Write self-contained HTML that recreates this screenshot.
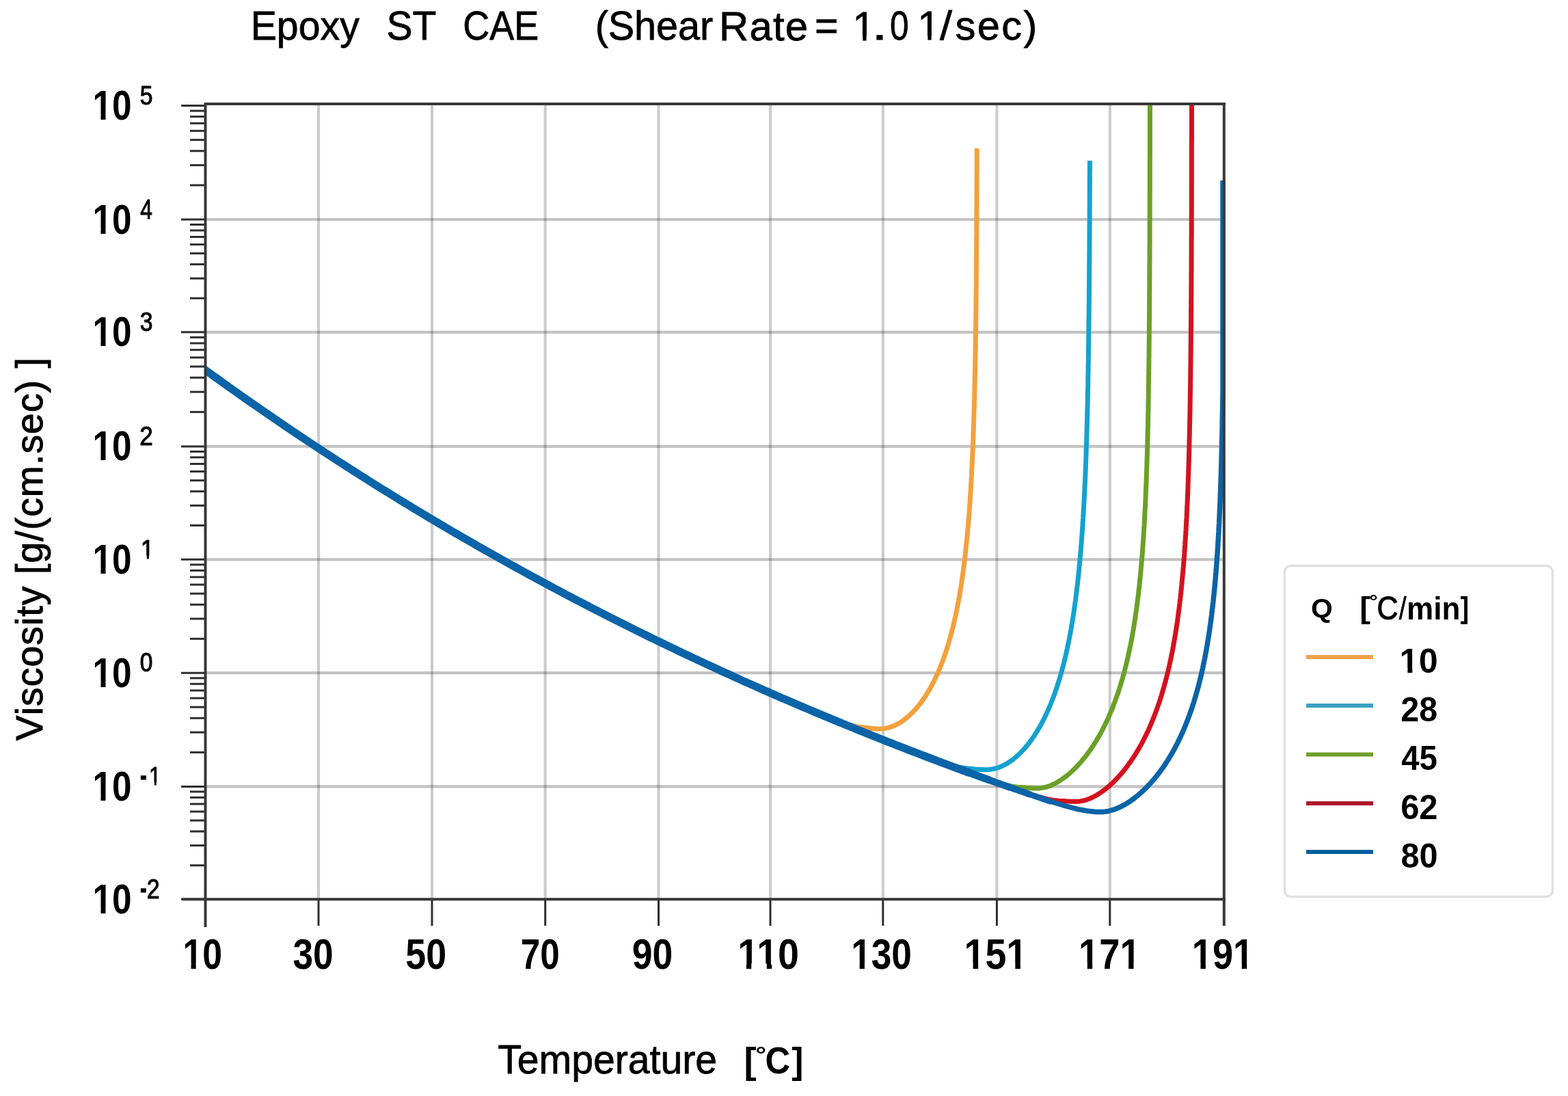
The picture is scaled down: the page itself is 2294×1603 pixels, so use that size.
<!DOCTYPE html>
<html><head><meta charset="utf-8"><title>Epoxy ST CAE viscosity</title>
<style>html,body{margin:0;padding:0;background:#fff;overflow:hidden;}svg{display:block;}</style></head>
<body>
<svg width="2294" height="1603" viewBox="0 0 2294 1603"><defs><clipPath id="plotclip" clipPathUnits="userSpaceOnUse"><rect x="300" y="150" width="1492" height="1166"/></clipPath><clipPath id="c1" clipPathUnits="userSpaceOnUse"><rect x="1197.25" y="-12.92" width="10000.00" height="65.77"/><rect x="1262.23" y="51.95" width="5.27" height="32.00"/></clipPath><clipPath id="c2" clipPathUnits="userSpaceOnUse"><rect x="1292.35" y="-13.12" width="10000.00" height="65.77"/><rect x="1357.33" y="51.75" width="5.27" height="32.00"/></clipPath><clipPath id="c3" clipPathUnits="userSpaceOnUse"><rect x="85.49" y="102.62" width="10000.00" height="64.93"/><rect x="147.47" y="166.64" width="7.05" height="32.36"/><rect x="163.55" y="166.64" width="29.56" height="32.36"/></clipPath><clipPath id="c4" clipPathUnits="userSpaceOnUse"><rect x="85.49" y="269.12" width="10000.00" height="64.93"/><rect x="147.47" y="333.14" width="7.05" height="32.36"/><rect x="163.55" y="333.14" width="29.56" height="32.36"/></clipPath><clipPath id="c5" clipPathUnits="userSpaceOnUse"><rect x="85.49" y="433.92" width="10000.00" height="64.93"/><rect x="147.47" y="497.94" width="7.05" height="32.36"/><rect x="163.55" y="497.94" width="29.56" height="32.36"/></clipPath><clipPath id="c6" clipPathUnits="userSpaceOnUse"><rect x="85.49" y="601.02" width="10000.00" height="64.93"/><rect x="147.47" y="665.04" width="7.05" height="32.36"/><rect x="163.55" y="665.04" width="29.56" height="32.36"/></clipPath><clipPath id="c7" clipPathUnits="userSpaceOnUse"><rect x="85.49" y="766.42" width="10000.00" height="64.93"/><rect x="147.47" y="830.44" width="7.05" height="32.36"/><rect x="163.55" y="830.44" width="29.56" height="32.36"/></clipPath><clipPath id="c8" clipPathUnits="userSpaceOnUse"><rect x="155.87" y="770.58" width="10000.00" height="42.04"/><rect x="214.84" y="811.72" width="3.16" height="21.46"/></clipPath><clipPath id="c9" clipPathUnits="userSpaceOnUse"><rect x="85.49" y="932.32" width="10000.00" height="64.93"/><rect x="147.47" y="996.34" width="7.05" height="32.36"/><rect x="163.55" y="996.34" width="29.56" height="32.36"/></clipPath><clipPath id="c10" clipPathUnits="userSpaceOnUse"><rect x="85.49" y="1098.52" width="10000.00" height="64.93"/><rect x="147.47" y="1162.54" width="7.05" height="32.36"/><rect x="163.55" y="1162.54" width="29.56" height="32.36"/></clipPath><clipPath id="c11" clipPathUnits="userSpaceOnUse"><rect x="167.96" y="1102.75" width="10000.00" height="41.23"/><rect x="225.91" y="1143.08" width="2.79" height="21.10"/></clipPath><clipPath id="c12" clipPathUnits="userSpaceOnUse"><rect x="85.49" y="1263.42" width="10000.00" height="64.93"/><rect x="147.47" y="1327.44" width="7.05" height="32.36"/><rect x="163.55" y="1327.44" width="29.56" height="32.36"/></clipPath><clipPath id="c13" clipPathUnits="userSpaceOnUse"><rect x="217.46" y="1342.00" width="10000.00" height="67.32"/><rect x="279.56" y="1408.42" width="7.11" height="33.45"/><rect x="295.79" y="1408.42" width="29.84" height="33.45"/></clipPath><clipPath id="c14" clipPathUnits="userSpaceOnUse"><rect x="1029.33" y="1342.00" width="10000.00" height="67.32"/><rect x="1091.87" y="1408.42" width="7.37" height="33.45"/><rect x="1121.76" y="1408.42" width="7.37" height="33.45"/><rect x="1138.61" y="1408.42" width="30.89" height="33.45"/></clipPath><clipPath id="c15" clipPathUnits="userSpaceOnUse"><rect x="1195.16" y="1342.00" width="10000.00" height="67.32"/><rect x="1257.59" y="1408.42" width="7.30" height="33.45"/><rect x="1274.27" y="1408.42" width="30.61" height="33.45"/><rect x="1303.88" y="1408.42" width="30.61" height="33.45"/></clipPath><clipPath id="c16" clipPathUnits="userSpaceOnUse"><rect x="1360.61" y="1342.00" width="10000.00" height="67.32"/><rect x="1423.56" y="1408.42" width="7.61" height="33.45"/><rect x="1440.97" y="1408.42" width="31.86" height="33.45"/><rect x="1485.29" y="1408.42" width="7.61" height="33.45"/></clipPath><clipPath id="c17" clipPathUnits="userSpaceOnUse"><rect x="1528.09" y="1342.00" width="10000.00" height="67.32"/><rect x="1590.75" y="1408.42" width="7.44" height="33.45"/><rect x="1607.75" y="1408.42" width="31.16" height="33.45"/><rect x="1651.06" y="1408.42" width="7.44" height="33.45"/></clipPath><clipPath id="c18" clipPathUnits="userSpaceOnUse"><rect x="1693.79" y="1342.00" width="10000.00" height="67.32"/><rect x="1756.45" y="1408.42" width="7.44" height="33.45"/><rect x="1773.45" y="1408.42" width="31.16" height="33.45"/><rect x="1816.76" y="1408.42" width="7.44" height="33.45"/></clipPath><clipPath id="c19" clipPathUnits="userSpaceOnUse"><rect x="1997.55" y="923.33" width="10000.00" height="53.76"/><rect x="2059.33" y="976.18" width="6.92" height="27.27"/><rect x="2075.11" y="976.18" width="29.06" height="27.27"/></clipPath></defs><g stroke="#000" stroke-opacity="0.2" stroke-width="4.2"><line x1="466.0" y1="152.0" x2="466.0" y2="1315.3"/><line x1="632.0" y1="152.0" x2="632.0" y2="1315.3"/><line x1="797.7" y1="152.0" x2="797.7" y2="1315.3"/><line x1="963.5" y1="152.0" x2="963.5" y2="1315.3"/><line x1="1127.0" y1="152.0" x2="1127.0" y2="1315.3"/><line x1="1291.8" y1="152.0" x2="1291.8" y2="1315.3"/><line x1="1458.4" y1="152.0" x2="1458.4" y2="1315.3"/><line x1="1623.8" y1="152.0" x2="1623.8" y2="1315.3"/></g>
<g stroke="#000" stroke-opacity="0.235" stroke-width="4.2"><line x1="300.5" y1="321.0" x2="1789.5" y2="321.0"/><line x1="300.5" y1="485.8" x2="1789.5" y2="485.8"/><line x1="300.5" y1="652.9" x2="1789.5" y2="652.9"/><line x1="300.5" y1="818.3" x2="1789.5" y2="818.3"/><line x1="300.5" y1="984.2" x2="1789.5" y2="984.2"/><line x1="300.5" y1="1150.4" x2="1789.5" y2="1150.4"/></g>
<g stroke="#2e2e2e" stroke-width="3"><line x1="265" y1="154.5" x2="300.5" y2="154.5"/><line x1="265" y1="321.0" x2="300.5" y2="321.0"/><line x1="265" y1="485.8" x2="300.5" y2="485.8"/><line x1="265" y1="652.9" x2="300.5" y2="652.9"/><line x1="265" y1="818.3" x2="300.5" y2="818.3"/><line x1="265" y1="984.2" x2="300.5" y2="984.2"/><line x1="265" y1="1150.4" x2="300.5" y2="1150.4"/><line x1="265" y1="1315.3" x2="300.5" y2="1315.3"/><line x1="278" y1="270.9" x2="300.5" y2="270.9"/><line x1="278" y1="241.6" x2="300.5" y2="241.6"/><line x1="278" y1="220.8" x2="300.5" y2="220.8"/><line x1="278" y1="204.6" x2="300.5" y2="204.6"/><line x1="278" y1="191.4" x2="300.5" y2="191.4"/><line x1="278" y1="180.3" x2="300.5" y2="180.3"/><line x1="278" y1="170.6" x2="300.5" y2="170.6"/><line x1="278" y1="162.1" x2="300.5" y2="162.1"/><line x1="278" y1="436.2" x2="300.5" y2="436.2"/><line x1="278" y1="407.2" x2="300.5" y2="407.2"/><line x1="278" y1="386.6" x2="300.5" y2="386.6"/><line x1="278" y1="370.6" x2="300.5" y2="370.6"/><line x1="278" y1="357.6" x2="300.5" y2="357.6"/><line x1="278" y1="346.5" x2="300.5" y2="346.5"/><line x1="278" y1="337.0" x2="300.5" y2="337.0"/><line x1="278" y1="328.5" x2="300.5" y2="328.5"/><line x1="278" y1="602.6" x2="300.5" y2="602.6"/><line x1="278" y1="573.2" x2="300.5" y2="573.2"/><line x1="278" y1="552.3" x2="300.5" y2="552.3"/><line x1="278" y1="536.1" x2="300.5" y2="536.1"/><line x1="278" y1="522.9" x2="300.5" y2="522.9"/><line x1="278" y1="511.7" x2="300.5" y2="511.7"/><line x1="278" y1="502.0" x2="300.5" y2="502.0"/><line x1="278" y1="493.4" x2="300.5" y2="493.4"/><line x1="278" y1="768.5" x2="300.5" y2="768.5"/><line x1="278" y1="739.4" x2="300.5" y2="739.4"/><line x1="278" y1="718.7" x2="300.5" y2="718.7"/><line x1="278" y1="702.7" x2="300.5" y2="702.7"/><line x1="278" y1="689.6" x2="300.5" y2="689.6"/><line x1="278" y1="678.5" x2="300.5" y2="678.5"/><line x1="278" y1="668.9" x2="300.5" y2="668.9"/><line x1="278" y1="660.5" x2="300.5" y2="660.5"/><line x1="278" y1="934.3" x2="300.5" y2="934.3"/><line x1="278" y1="905.0" x2="300.5" y2="905.0"/><line x1="278" y1="884.3" x2="300.5" y2="884.3"/><line x1="278" y1="868.2" x2="300.5" y2="868.2"/><line x1="278" y1="855.1" x2="300.5" y2="855.1"/><line x1="278" y1="844.0" x2="300.5" y2="844.0"/><line x1="278" y1="834.4" x2="300.5" y2="834.4"/><line x1="278" y1="825.9" x2="300.5" y2="825.9"/><line x1="278" y1="1100.4" x2="300.5" y2="1100.4"/><line x1="278" y1="1071.1" x2="300.5" y2="1071.1"/><line x1="278" y1="1050.3" x2="300.5" y2="1050.3"/><line x1="278" y1="1034.2" x2="300.5" y2="1034.2"/><line x1="278" y1="1021.1" x2="300.5" y2="1021.1"/><line x1="278" y1="1009.9" x2="300.5" y2="1009.9"/><line x1="278" y1="1000.3" x2="300.5" y2="1000.3"/><line x1="278" y1="991.8" x2="300.5" y2="991.8"/><line x1="278" y1="1265.7" x2="300.5" y2="1265.7"/><line x1="278" y1="1236.6" x2="300.5" y2="1236.6"/><line x1="278" y1="1216.0" x2="300.5" y2="1216.0"/><line x1="278" y1="1200.0" x2="300.5" y2="1200.0"/><line x1="278" y1="1187.0" x2="300.5" y2="1187.0"/><line x1="278" y1="1175.9" x2="300.5" y2="1175.9"/><line x1="278" y1="1166.4" x2="300.5" y2="1166.4"/><line x1="278" y1="1157.9" x2="300.5" y2="1157.9"/><line x1="300.5" y1="1315.3" x2="300.5" y2="1354"/><line x1="466.0" y1="1315.3" x2="466.0" y2="1354"/><line x1="632.0" y1="1315.3" x2="632.0" y2="1354"/><line x1="797.7" y1="1315.3" x2="797.7" y2="1354"/><line x1="963.5" y1="1315.3" x2="963.5" y2="1354"/><line x1="1127.0" y1="1315.3" x2="1127.0" y2="1354"/><line x1="1291.8" y1="1315.3" x2="1291.8" y2="1354"/><line x1="1458.4" y1="1315.3" x2="1458.4" y2="1354"/><line x1="1623.8" y1="1315.3" x2="1623.8" y2="1354"/></g>
<g fill="none" stroke-linecap="butt" stroke-linejoin="round">
<path d="M1191.6,1041.1 L1195.2,1042.6 L1198.9,1044.1 L1202.6,1045.6 L1206.2,1047.1 L1209.9,1048.5 L1213.6,1050.0 L1217.3,1051.4 L1220.9,1052.8 L1224.6,1054.2 L1228.3,1055.6 L1232.0,1056.8 L1235.6,1058.1 L1239.3,1059.2 L1243.0,1060.2 L1246.7,1061.2 L1250.3,1061.9 L1254.0,1062.6 L1257.7,1063.1 L1261.4,1063.6 L1265.0,1064.1 L1268.7,1064.5 L1272.4,1065.0 L1276.0,1065.4 L1279.7,1065.7 L1281.8,1065.9 L1284.0,1066.0 L1286.2,1066.1 L1288.3,1066.0 L1290.5,1065.9 L1292.6,1065.7 L1294.6,1065.4 L1296.7,1065.0 L1298.7,1064.6 L1300.7,1064.0 L1302.7,1063.4 L1304.7,1062.7 L1306.6,1062.0 L1308.5,1061.2 L1310.4,1060.3 L1312.2,1059.4 L1314.1,1058.4 L1315.9,1057.3 L1317.7,1056.2 L1319.4,1055.1 L1321.2,1053.9 L1322.9,1052.6 L1324.6,1051.3 L1326.3,1050.0 L1327.9,1048.6 L1329.6,1047.2 L1331.2,1045.7 L1332.8,1044.2 L1334.3,1042.6 L1335.9,1041.0 L1337.4,1039.4 L1338.9,1037.8 L1340.3,1036.3 L1341.6,1034.7 L1342.9,1033.2 L1344.1,1031.6 L1345.4,1030.0 L1346.7,1028.4 L1347.9,1026.7 L1349.1,1025.1 L1350.3,1023.4 L1351.5,1021.7 L1352.7,1019.9 L1353.9,1018.2 L1355.0,1016.4 L1356.1,1014.6 L1357.3,1012.7 L1358.4,1010.9 L1359.5,1009.0 L1360.5,1007.2 L1361.6,1005.3 L1362.7,1003.3 L1363.7,1001.4 L1364.7,999.4 L1365.7,997.4 L1366.8,995.4 L1367.7,993.4 L1368.7,991.4 L1369.7,989.3 L1370.6,987.3 L1371.5,985.4 L1372.3,983.6 L1373.1,981.7 L1373.9,979.9 L1374.7,978.0 L1375.4,976.1 L1376.2,974.2 L1377.0,972.3 L1377.7,970.4 L1378.5,968.4 L1379.2,966.5 L1379.9,964.5 L1380.6,962.5 L1381.4,960.5 L1382.1,958.5 L1382.7,956.5 L1383.4,954.5 L1384.1,952.4 L1384.8,950.4 L1385.4,948.3 L1386.1,946.2 L1386.7,944.1 L1387.4,942.0 L1388.0,939.9 L1388.6,937.8 L1389.2,935.6 L1389.9,933.5 L1390.5,931.3 L1391.0,929.2 L1391.6,927.0 L1392.2,924.8 L1392.8,922.6 L1393.3,920.3 L1393.9,918.1 L1394.5,915.9 L1395.0,913.6 L1395.5,911.3 L1396.0,909.4 L1396.4,907.4 L1396.9,905.5 L1397.3,903.5 L1397.8,901.5 L1398.2,899.5 L1398.6,897.5 L1399.0,895.5 L1399.5,893.5 L1399.9,891.4 L1400.3,889.4 L1400.7,887.4 L1401.1,885.3 L1401.5,883.2 L1401.9,881.2 L1402.3,879.1 L1402.6,877.0 L1403.0,874.9 L1403.4,872.8 L1403.8,870.7 L1404.1,868.6 L1404.5,866.4 L1404.8,864.3 L1405.2,862.2 L1405.5,860.0 L1405.9,857.8 L1406.2,855.7 L1406.6,853.5 L1406.9,851.3 L1407.2,849.1 L1407.6,846.9 L1407.9,844.7 L1408.2,842.4 L1408.5,840.2 L1408.8,838.0 L1409.1,835.7 L1409.4,833.4 L1409.7,831.2 L1410.0,828.9 L1410.3,826.6 L1410.6,824.3 L1410.9,822.0 L1411.2,819.7 L1411.5,817.4 L1411.7,815.0 L1412.0,812.7 L1412.3,810.4 L1412.5,808.0 L1412.8,805.6 L1413.1,803.3 L1413.3,800.9 L1413.5,798.9 L1413.7,796.9 L1413.9,794.9 L1414.1,792.9 L1414.3,790.8 L1414.5,788.8 L1414.7,786.8 L1414.9,784.7 L1415.1,782.7 L1415.3,780.6 L1415.5,778.6 L1415.7,776.5 L1415.9,774.4 L1416.1,772.4 L1416.3,770.3 L1416.4,768.2 L1416.6,766.1 L1416.8,764.0 L1417.0,761.9 L1417.1,759.7 L1417.3,757.6 L1417.5,755.5 L1417.6,753.3 L1417.8,751.2 L1418.0,749.0 L1418.1,746.9 L1418.3,744.7 L1418.4,742.5 L1418.6,740.4 L1418.8,738.2 L1418.9,736.0 L1419.1,733.8 L1419.2,731.6 L1419.4,729.4 L1419.5,727.1 L1419.6,724.9 L1419.8,722.7 L1419.9,720.4 L1420.1,718.2 L1420.2,715.9 L1420.3,713.6 L1420.5,711.4 L1420.6,709.1 L1420.7,706.8 L1420.9,704.5 L1421.0,702.2 L1421.1,699.9 L1421.2,697.6 L1421.4,695.2 L1421.5,692.9 L1421.6,690.6 L1421.7,688.2 L1421.9,685.9 L1422.0,683.5 L1422.1,681.1 L1422.2,678.7 L1422.3,676.3 L1422.4,673.9 L1422.5,671.5 L1422.6,669.1 L1422.7,666.7 L1422.9,664.3 L1423.0,661.8 L1423.1,659.4 L1423.2,656.9 L1423.3,654.5 L1423.4,652.0 L1423.5,649.5 L1423.6,647.0 L1423.7,644.6 L1423.7,642.5 L1423.8,640.5 L1423.9,638.5 L1423.9,636.5 L1424.0,634.5 L1424.1,632.5 L1424.2,630.4 L1424.2,628.4 L1424.3,626.3 L1424.4,624.3 L1424.4,622.2 L1424.5,620.2 L1424.6,618.1 L1424.6,616.0 L1424.7,613.9 L1424.8,611.8 L1424.8,609.8 L1424.9,607.7 L1425.0,605.5 L1425.0,603.4 L1425.1,601.3 L1425.1,599.2 L1425.2,597.1 L1425.3,594.9 L1425.3,592.8 L1425.4,590.7 L1425.4,588.5 L1425.5,586.3 L1425.6,584.2 L1425.6,582.0 L1425.7,579.8 L1425.7,577.6 L1425.8,575.5 L1425.8,573.3 L1425.9,571.1 L1425.9,568.8 L1426.0,566.6 L1426.0,564.4 L1426.1,562.2 L1426.1,559.9 L1426.2,557.7 L1426.2,555.5 L1426.3,553.2 L1426.3,550.9 L1426.4,548.7 L1426.4,546.4 L1426.5,544.1 L1426.5,541.8 L1426.6,539.5 L1426.6,537.2 L1426.7,534.9 L1426.7,532.6 L1426.7,530.3 L1426.8,528.0 L1426.8,525.6 L1426.9,523.3 L1426.9,520.9 L1426.9,518.6 L1427.0,516.2 L1427.0,513.8 L1427.1,511.4 L1427.1,509.1 L1427.1,506.7 L1427.2,504.3 L1427.2,501.8 L1427.3,499.4 L1427.3,497.0 L1427.3,494.6 L1427.4,492.1 L1427.4,489.7 L1427.4,487.2 L1427.5,484.8 L1427.5,482.3 L1427.5,479.8 L1427.6,477.3 L1427.6,474.8 L1427.6,472.3 L1427.7,469.8 L1427.7,467.3 L1427.7,464.8 L1427.8,462.2 L1427.8,459.7 L1427.8,457.1 L1427.8,454.6 L1427.9,452.0 L1427.9,449.4 L1427.9,446.8 L1428.0,444.3 L1428.0,441.6 L1428.0,439.0 L1428.0,436.4 L1428.1,433.8 L1428.1,431.1 L1428.1,428.5 L1428.1,425.8 L1428.2,423.2 L1428.2,421.2 L1428.2,419.2 L1428.2,417.1 L1428.2,415.1 L1428.3,413.1 L1428.3,411.1 L1428.3,409.0 L1428.3,407.0 L1428.3,404.9 L1428.3,402.9 L1428.4,400.8 L1428.4,398.8 L1428.4,396.7 L1428.4,394.6 L1428.4,392.6 L1428.4,390.5 L1428.5,388.4 L1428.5,386.3 L1428.5,384.2 L1428.5,382.1 L1428.5,380.0 L1428.5,377.8 L1428.6,375.7 L1428.6,373.6 L1428.6,371.5 L1428.6,369.3 L1428.6,367.2 L1428.6,365.0 L1428.6,362.9 L1428.7,360.7 L1428.7,358.5 L1428.7,356.3 L1428.7,354.2 L1428.7,352.0 L1428.7,349.8 L1428.7,347.6 L1428.7,345.4 L1428.8,343.2 L1428.8,340.9 L1428.8,338.7 L1428.8,336.5 L1428.8,334.2 L1428.8,332.0 L1428.8,329.7 L1428.8,327.5 L1428.9,325.2 L1428.9,323.0 L1428.9,320.7 L1428.9,318.4 L1428.9,316.1 L1428.9,313.8 L1428.9,311.5 L1428.9,309.2 L1428.9,306.9 L1429.0,304.6 L1429.0,302.2 L1429.0,299.9 L1429.0,297.5 L1429.0,295.2 L1429.0,292.8 L1429.0,290.5 L1429.0,288.1 L1429.0,285.7 L1429.0,283.3 L1429.0,280.9 L1429.1,278.5 L1429.1,276.1 L1429.1,273.7 L1429.1,271.3 L1429.1,268.9 L1429.1,266.4 L1429.1,264.0 L1429.1,261.5 L1429.1,259.1 L1429.1,256.6 L1429.1,254.1 L1429.2,251.6 L1429.2,249.1 L1429.2,246.6 L1429.2,244.1 L1429.2,241.6 L1429.2,239.1 L1429.2,236.6 L1429.2,234.0 L1429.2,231.5 L1429.2,228.9 L1429.2,226.4 L1429.2,223.8 L1429.2,221.2 L1429.2,218.6 L1429.3,217.0" stroke="#f4a03c" stroke-width="7"/>
<path d="M1349.1,1104.3 L1352.8,1105.6 L1356.5,1107.0 L1360.1,1108.4 L1363.8,1109.7 L1367.5,1111.0 L1371.2,1112.4 L1374.8,1113.6 L1378.5,1114.9 L1382.2,1116.2 L1385.8,1117.4 L1389.5,1118.5 L1393.2,1119.6 L1396.9,1120.6 L1400.5,1121.5 L1404.2,1122.3 L1407.9,1122.9 L1411.6,1123.4 L1415.2,1123.9 L1418.9,1124.2 L1422.6,1124.5 L1426.3,1124.9 L1429.9,1125.2 L1433.6,1125.4 L1437.3,1125.6 L1439.4,1125.7 L1441.4,1125.8 L1443.5,1125.8 L1445.5,1125.7 L1447.5,1125.5 L1449.7,1125.3 L1451.9,1124.9 L1454.1,1124.5 L1456.2,1123.9 L1458.3,1123.3 L1460.4,1122.7 L1462.5,1121.9 L1464.5,1121.1 L1466.5,1120.2 L1468.5,1119.2 L1470.5,1118.2 L1472.4,1117.1 L1474.4,1116.0 L1476.2,1114.8 L1478.1,1113.5 L1479.7,1112.3 L1481.4,1111.1 L1483.0,1109.9 L1484.6,1108.6 L1486.1,1107.3 L1487.7,1106.0 L1489.2,1104.6 L1490.7,1103.2 L1492.2,1101.7 L1493.7,1100.3 L1495.2,1098.7 L1496.6,1097.2 L1498.0,1095.6 L1499.4,1094.1 L1500.8,1092.4 L1502.2,1090.8 L1503.6,1089.1 L1504.9,1087.4 L1506.3,1085.7 L1507.6,1083.9 L1508.9,1082.2 L1510.2,1080.4 L1511.4,1078.5 L1512.7,1076.7 L1513.9,1074.8 L1515.1,1072.9 L1516.3,1071.0 L1517.5,1069.1 L1518.7,1067.1 L1519.7,1065.4 L1520.7,1063.7 L1521.7,1061.9 L1522.7,1060.1 L1523.7,1058.4 L1524.7,1056.5 L1525.6,1054.7 L1526.6,1052.9 L1527.5,1051.0 L1528.4,1049.2 L1529.3,1047.3 L1530.2,1045.4 L1531.1,1043.5 L1532.0,1041.6 L1532.9,1039.6 L1533.8,1037.7 L1534.6,1035.7 L1535.5,1033.8 L1536.3,1031.8 L1537.1,1029.8 L1537.9,1027.8 L1538.7,1025.7 L1539.5,1023.7 L1540.3,1021.6 L1541.1,1019.6 L1541.9,1017.5 L1542.7,1015.4 L1543.4,1013.3 L1544.1,1011.1 L1544.9,1009.0 L1545.6,1006.9 L1546.3,1004.7 L1547.0,1002.5 L1547.7,1000.4 L1548.4,998.2 L1549.1,996.0 L1549.8,993.7 L1550.5,991.5 L1551.0,989.6 L1551.6,987.6 L1552.2,985.7 L1552.7,983.7 L1553.3,981.8 L1553.8,979.8 L1554.3,977.8 L1554.9,975.8 L1555.4,973.9 L1555.9,971.8 L1556.4,969.8 L1556.9,967.8 L1557.4,965.8 L1557.9,963.7 L1558.4,961.7 L1558.9,959.6 L1559.4,957.6 L1559.8,955.5 L1560.3,953.4 L1560.8,951.3 L1561.2,949.2 L1561.7,947.1 L1562.1,945.0 L1562.6,942.9 L1563.0,940.7 L1563.5,938.6 L1563.9,936.4 L1564.3,934.3 L1564.7,932.1 L1565.1,929.9 L1565.6,927.7 L1566.0,925.5 L1566.4,923.3 L1566.8,921.1 L1567.2,918.9 L1567.5,916.6 L1567.9,914.4 L1568.3,912.1 L1568.7,909.9 L1569.1,907.6 L1569.4,905.3 L1569.8,903.0 L1570.1,900.7 L1570.5,898.4 L1570.9,896.1 L1571.2,893.8 L1571.5,891.5 L1571.9,889.1 L1572.2,886.8 L1572.5,884.4 L1572.9,882.0 L1573.2,879.7 L1573.5,877.7 L1573.7,875.7 L1574.0,873.7 L1574.2,871.7 L1574.5,869.7 L1574.8,867.6 L1575.0,865.6 L1575.3,863.6 L1575.5,861.5 L1575.7,859.5 L1576.0,857.4 L1576.2,855.4 L1576.5,853.3 L1576.7,851.2 L1576.9,849.2 L1577.2,847.1 L1577.4,845.0 L1577.6,842.9 L1577.8,840.8 L1578.0,838.7 L1578.3,836.6 L1578.5,834.4 L1578.7,832.3 L1578.9,830.2 L1579.1,828.0 L1579.3,825.9 L1579.5,823.7 L1579.7,821.5 L1579.9,819.4 L1580.1,817.2 L1580.3,815.0 L1580.5,812.8 L1580.7,810.6 L1580.9,808.4 L1581.1,806.2 L1581.3,804.0 L1581.4,801.7 L1581.6,799.5 L1581.8,797.3 L1582.0,795.0 L1582.2,792.8 L1582.3,790.5 L1582.5,788.2 L1582.7,785.9 L1582.8,783.7 L1583.0,781.4 L1583.2,779.1 L1583.3,776.8 L1583.5,774.4 L1583.7,772.1 L1583.8,769.8 L1584.0,767.5 L1584.1,765.1 L1584.3,762.8 L1584.4,760.4 L1584.6,758.0 L1584.7,755.7 L1584.9,753.3 L1585.0,750.9 L1585.1,748.5 L1585.3,746.1 L1585.4,743.7 L1585.6,741.3 L1585.7,738.8 L1585.8,736.4 L1586.0,733.9 L1586.1,731.5 L1586.2,729.0 L1586.3,726.6 L1586.5,724.1 L1586.6,721.6 L1586.7,719.1 L1586.8,717.1 L1586.9,715.1 L1587.0,713.1 L1587.1,711.1 L1587.2,709.1 L1587.3,707.0 L1587.4,705.0 L1587.5,703.0 L1587.6,700.9 L1587.7,698.9 L1587.7,696.8 L1587.8,694.8 L1587.9,692.7 L1588.0,690.6 L1588.1,688.5 L1588.2,686.5 L1588.3,684.4 L1588.3,682.3 L1588.4,680.2 L1588.5,678.1 L1588.6,676.0 L1588.7,673.9 L1588.7,671.7 L1588.8,669.6 L1588.9,667.5 L1589.0,665.3 L1589.0,663.2 L1589.1,661.1 L1589.2,658.9 L1589.3,656.7 L1589.3,654.6 L1589.4,652.4 L1589.5,650.2 L1589.5,648.0 L1589.6,645.8 L1589.7,643.6 L1589.7,641.4 L1589.8,639.2 L1589.9,637.0 L1589.9,634.8 L1590.0,632.6 L1590.1,630.3 L1590.1,628.1 L1590.2,625.8 L1590.3,623.6 L1590.3,621.3 L1590.4,619.1 L1590.4,616.8 L1590.5,614.5 L1590.6,612.2 L1590.6,609.9 L1590.7,607.6 L1590.7,605.3 L1590.8,603.0 L1590.9,600.7 L1590.9,598.4 L1591.0,596.0 L1591.0,593.7 L1591.1,591.3 L1591.1,589.0 L1591.2,586.6 L1591.2,584.3 L1591.3,581.9 L1591.3,579.5 L1591.4,577.1 L1591.4,574.7 L1591.5,572.3 L1591.5,569.9 L1591.6,567.5 L1591.6,565.1 L1591.7,562.6 L1591.7,560.2 L1591.8,557.7 L1591.8,555.3 L1591.8,552.8 L1591.9,550.4 L1591.9,547.9 L1592.0,545.4 L1592.0,542.9 L1592.1,540.4 L1592.1,537.9 L1592.1,535.4 L1592.2,532.9 L1592.2,530.3 L1592.3,527.8 L1592.3,525.3 L1592.3,522.7 L1592.4,520.2 L1592.4,517.6 L1592.4,515.0 L1592.5,512.4 L1592.5,509.8 L1592.6,507.2 L1592.6,504.6 L1592.6,502.0 L1592.7,499.4 L1592.7,496.7 L1592.7,494.1 L1592.8,491.4 L1592.8,488.8 L1592.8,486.8 L1592.8,484.8 L1592.9,482.8 L1592.9,480.7 L1592.9,478.7 L1592.9,476.7 L1593.0,474.7 L1593.0,472.6 L1593.0,470.6 L1593.0,468.5 L1593.0,466.5 L1593.1,464.4 L1593.1,462.4 L1593.1,460.3 L1593.1,458.2 L1593.2,456.2 L1593.2,454.1 L1593.2,452.0 L1593.2,449.9 L1593.2,447.8 L1593.3,445.7 L1593.3,443.6 L1593.3,441.5 L1593.3,439.4 L1593.3,437.2 L1593.4,435.1 L1593.4,433.0 L1593.4,430.8 L1593.4,428.7 L1593.4,426.5 L1593.4,424.4 L1593.5,422.2 L1593.5,420.0 L1593.5,417.9 L1593.5,415.7 L1593.5,413.5 L1593.5,411.3 L1593.6,409.1 L1593.6,406.9 L1593.6,404.7 L1593.6,402.5 L1593.6,400.3 L1593.6,398.0 L1593.7,395.8 L1593.7,393.6 L1593.7,391.3 L1593.7,389.1 L1593.7,386.8 L1593.7,384.5 L1593.8,382.3 L1593.8,380.0 L1593.8,377.7 L1593.8,375.4 L1593.8,373.1 L1593.8,370.8 L1593.8,368.5 L1593.9,366.2 L1593.9,363.9 L1593.9,361.6 L1593.9,359.2 L1593.9,356.9 L1593.9,354.5 L1593.9,352.2 L1593.9,349.8 L1594.0,347.5 L1594.0,345.1 L1594.0,342.7 L1594.0,340.3 L1594.0,337.9 L1594.0,335.5 L1594.0,333.1 L1594.0,330.7 L1594.1,328.3 L1594.1,325.9 L1594.1,323.4 L1594.1,321.0 L1594.1,318.5 L1594.1,316.1 L1594.1,313.6 L1594.1,311.1 L1594.1,308.7 L1594.1,306.2 L1594.2,303.7 L1594.2,301.2 L1594.2,298.7 L1594.2,296.2 L1594.2,293.6 L1594.2,291.1 L1594.2,288.6 L1594.2,286.0 L1594.2,283.5 L1594.2,280.9 L1594.3,278.3 L1594.3,275.7 L1594.3,273.2 L1594.3,270.6 L1594.3,268.0 L1594.3,265.4 L1594.3,262.7 L1594.3,260.1 L1594.3,257.5 L1594.3,254.8 L1594.3,252.2 L1594.3,249.5 L1594.4,246.9 L1594.4,244.2 L1594.4,241.5 L1594.4,238.8 L1594.4,236.1 L1594.4,235.0" stroke="#14a2cf" stroke-width="7"/>
<path d="M1426.2,1133.1 L1429.9,1134.4 L1433.6,1135.7 L1437.2,1137.0 L1440.9,1138.3 L1444.6,1139.5 L1448.3,1140.8 L1451.9,1142.0 L1455.6,1143.2 L1459.3,1144.4 L1463.0,1145.5 L1466.6,1146.6 L1470.3,1147.6 L1474.0,1148.6 L1477.6,1149.4 L1481.3,1150.1 L1485.0,1150.7 L1488.7,1151.2 L1492.3,1151.5 L1496.0,1151.8 L1499.7,1152.1 L1503.4,1152.4 L1507.0,1152.6 L1510.7,1152.8 L1514.4,1153.0 L1516.5,1153.0 L1518.7,1153.0 L1520.9,1152.9 L1523.0,1152.6 L1525.2,1152.3 L1527.3,1151.9 L1529.4,1151.4 L1531.4,1150.8 L1533.5,1150.2 L1535.5,1149.5 L1537.5,1148.7 L1539.5,1147.8 L1541.4,1146.9 L1543.4,1146.0 L1545.3,1145.0 L1547.2,1143.9 L1549.0,1142.8 L1550.9,1141.6 L1552.7,1140.4 L1554.5,1139.2 L1556.3,1137.9 L1558.1,1136.6 L1559.8,1135.3 L1561.6,1133.9 L1563.3,1132.5 L1565.0,1131.0 L1566.6,1129.5 L1568.3,1128.0 L1569.9,1126.5 L1571.5,1124.9 L1573.1,1123.3 L1574.7,1121.7 L1576.3,1120.1 L1577.8,1118.4 L1579.3,1116.8 L1580.9,1115.1 L1582.3,1113.3 L1583.8,1111.6 L1585.3,1109.8 L1586.5,1108.3 L1587.8,1106.7 L1589.0,1105.1 L1590.2,1103.5 L1591.4,1101.9 L1592.6,1100.3 L1593.8,1098.6 L1595.0,1097.0 L1596.1,1095.3 L1597.3,1093.6 L1598.4,1092.0 L1599.5,1090.3 L1600.6,1088.5 L1601.7,1086.8 L1602.8,1085.1 L1603.9,1083.3 L1604.9,1081.6 L1606.0,1079.8 L1607.0,1078.0 L1608.1,1076.3 L1609.1,1074.5 L1610.1,1072.6 L1611.1,1070.8 L1612.0,1069.0 L1613.0,1067.1 L1614.0,1065.3 L1614.9,1063.4 L1615.9,1061.6 L1616.8,1059.7 L1617.7,1057.8 L1618.6,1055.9 L1619.5,1054.0 L1620.4,1052.1 L1621.3,1050.1 L1622.2,1048.2 L1623.0,1046.2 L1623.9,1044.3 L1624.7,1042.3 L1625.5,1040.3 L1626.4,1038.4 L1627.2,1036.4 L1628.0,1034.4 L1628.8,1032.3 L1629.5,1030.3 L1630.3,1028.3 L1631.1,1026.3 L1631.8,1024.2 L1632.6,1022.1 L1633.3,1020.1 L1634.0,1018.0 L1634.8,1015.9 L1635.5,1013.8 L1636.2,1011.7 L1636.9,1009.6 L1637.6,1007.5 L1638.2,1005.4 L1638.9,1003.2 L1639.6,1001.1 L1640.2,998.9 L1640.9,996.8 L1641.5,994.6 L1642.1,992.4 L1642.8,990.2 L1643.4,988.0 L1644.0,985.8 L1644.6,983.6 L1645.2,981.4 L1645.8,979.1 L1646.3,976.9 L1646.9,974.6 L1647.5,972.4 L1647.9,970.4 L1648.4,968.5 L1648.9,966.5 L1649.3,964.5 L1649.8,962.6 L1650.3,960.6 L1650.7,958.6 L1651.1,956.6 L1651.6,954.6 L1652.0,952.6 L1652.4,950.6 L1652.9,948.6 L1653.3,946.5 L1653.7,944.5 L1654.1,942.5 L1654.5,940.4 L1654.9,938.4 L1655.3,936.3 L1655.7,934.2 L1656.1,932.2 L1656.4,930.1 L1656.8,928.0 L1657.2,925.9 L1657.6,923.8 L1657.9,921.7 L1658.3,919.6 L1658.6,917.5 L1659.0,915.3 L1659.3,913.2 L1659.7,911.1 L1660.0,908.9 L1660.3,906.7 L1660.7,904.6 L1661.0,902.4 L1661.3,900.2 L1661.6,898.0 L1662.0,895.8 L1662.3,893.6 L1662.6,891.4 L1662.9,889.2 L1663.2,887.0 L1663.5,884.8 L1663.8,882.5 L1664.1,880.3 L1664.3,878.0 L1664.6,875.8 L1664.9,873.5 L1665.2,871.2 L1665.5,868.9 L1665.7,866.6 L1666.0,864.3 L1666.2,862.0 L1666.5,859.7 L1666.8,857.4 L1667.0,855.1 L1667.3,852.7 L1667.5,850.4 L1667.7,848.0 L1668.0,845.7 L1668.2,843.3 L1668.5,840.9 L1668.7,838.5 L1668.9,836.5 L1669.1,834.5 L1669.2,832.5 L1669.4,830.5 L1669.6,828.5 L1669.8,826.4 L1670.0,824.4 L1670.1,822.4 L1670.3,820.3 L1670.5,818.3 L1670.7,816.2 L1670.8,814.2 L1671.0,812.1 L1671.2,810.0 L1671.3,807.9 L1671.5,805.9 L1671.6,803.8 L1671.8,801.7 L1671.9,799.6 L1672.1,797.4 L1672.2,795.3 L1672.4,793.2 L1672.5,791.1 L1672.7,788.9 L1672.8,786.8 L1673.0,784.6 L1673.1,782.5 L1673.3,780.3 L1673.4,778.1 L1673.5,776.0 L1673.7,773.8 L1673.8,771.6 L1673.9,769.4 L1674.1,767.2 L1674.2,765.0 L1674.3,762.8 L1674.4,760.5 L1674.6,758.3 L1674.7,756.1 L1674.8,753.8 L1674.9,751.6 L1675.0,749.3 L1675.1,747.0 L1675.3,744.8 L1675.4,742.5 L1675.5,740.2 L1675.6,737.9 L1675.7,735.6 L1675.8,733.3 L1675.9,731.0 L1676.0,728.6 L1676.1,726.3 L1676.2,724.0 L1676.3,721.6 L1676.4,719.3 L1676.5,716.9 L1676.6,714.5 L1676.7,712.1 L1676.8,709.7 L1676.9,707.4 L1677.0,704.9 L1677.1,702.5 L1677.2,700.1 L1677.3,697.7 L1677.4,695.2 L1677.4,692.8 L1677.5,690.3 L1677.6,687.9 L1677.7,685.4 L1677.8,682.9 L1677.9,680.5 L1677.9,678.0 L1678.0,676.0 L1678.1,673.9 L1678.1,671.9 L1678.2,669.9 L1678.2,667.9 L1678.3,665.9 L1678.4,663.8 L1678.4,661.8 L1678.5,659.7 L1678.5,657.7 L1678.6,655.6 L1678.6,653.5 L1678.7,651.5 L1678.8,649.4 L1678.8,647.3 L1678.9,645.2 L1678.9,643.1 L1679.0,641.0 L1679.0,638.9 L1679.1,636.8 L1679.1,634.7 L1679.2,632.6 L1679.2,630.4 L1679.3,628.3 L1679.3,626.1 L1679.4,624.0 L1679.4,621.8 L1679.5,619.7 L1679.5,617.5 L1679.5,615.3 L1679.6,613.1 L1679.6,610.9 L1679.7,608.7 L1679.7,606.5 L1679.8,604.3 L1679.8,602.1 L1679.9,599.9 L1679.9,597.6 L1679.9,595.4 L1680.0,593.2 L1680.0,590.9 L1680.1,588.7 L1680.1,586.4 L1680.1,584.1 L1680.2,581.8 L1680.2,579.5 L1680.2,577.3 L1680.3,575.0 L1680.3,572.6 L1680.3,570.3 L1680.4,568.0 L1680.4,565.7 L1680.4,563.3 L1680.5,561.0 L1680.5,558.6 L1680.5,556.3 L1680.6,553.9 L1680.6,551.5 L1680.6,549.1 L1680.7,546.7 L1680.7,544.3 L1680.7,541.9 L1680.8,539.5 L1680.8,537.1 L1680.8,534.7 L1680.9,532.2 L1680.9,529.8 L1680.9,527.3 L1680.9,524.9 L1681.0,522.4 L1681.0,519.9 L1681.0,517.4 L1681.0,514.9 L1681.1,512.4 L1681.1,509.9 L1681.1,507.4 L1681.1,504.8 L1681.2,502.3 L1681.2,499.7 L1681.2,497.2 L1681.2,494.6 L1681.3,492.0 L1681.3,489.4 L1681.3,486.8 L1681.3,484.2 L1681.4,481.6 L1681.4,479.0 L1681.4,476.4 L1681.4,473.7 L1681.4,471.1 L1681.5,468.4 L1681.5,466.4 L1681.5,464.4 L1681.5,462.4 L1681.5,460.4 L1681.5,458.3 L1681.5,456.3 L1681.6,454.3 L1681.6,452.2 L1681.6,450.2 L1681.6,448.1 L1681.6,446.1 L1681.6,444.0 L1681.6,441.9 L1681.7,439.9 L1681.7,437.8 L1681.7,435.7 L1681.7,433.6 L1681.7,431.5 L1681.7,429.4 L1681.7,427.3 L1681.7,425.1 L1681.8,423.0 L1681.8,420.9 L1681.8,418.8 L1681.8,416.6 L1681.8,414.5 L1681.8,412.3 L1681.8,410.1 L1681.8,408.0 L1681.8,405.8 L1681.9,403.6 L1681.9,401.4 L1681.9,399.2 L1681.9,397.0 L1681.9,394.8 L1681.9,392.6 L1681.9,390.4 L1681.9,388.1 L1681.9,385.9 L1681.9,383.7 L1682.0,381.4 L1682.0,379.2 L1682.0,376.9 L1682.0,374.6 L1682.0,372.4 L1682.0,370.1 L1682.0,367.8 L1682.0,365.5 L1682.0,363.2 L1682.0,360.9 L1682.0,358.5 L1682.1,356.2 L1682.1,353.9 L1682.1,351.5 L1682.1,349.2 L1682.1,346.8 L1682.1,344.5 L1682.1,342.1 L1682.1,339.7 L1682.1,337.3 L1682.1,334.9 L1682.1,332.5 L1682.1,330.1 L1682.1,327.7 L1682.1,325.3 L1682.2,322.8 L1682.2,320.4 L1682.2,317.9 L1682.2,315.5 L1682.2,313.0 L1682.2,310.5 L1682.2,308.0 L1682.2,305.5 L1682.2,303.0 L1682.2,300.5 L1682.2,298.0 L1682.2,295.5 L1682.2,292.9 L1682.2,290.4 L1682.2,287.8 L1682.2,285.3 L1682.3,282.7 L1682.3,280.1 L1682.3,277.5 L1682.3,274.9 L1682.3,272.3 L1682.3,269.7 L1682.3,267.1 L1682.3,264.4 L1682.3,261.8 L1682.3,259.1 L1682.3,256.5 L1682.3,253.8 L1682.3,251.1 L1682.3,248.4 L1682.3,245.7 L1682.3,243.0 L1682.3,240.3 L1682.3,237.5 L1682.3,234.8 L1682.3,232.0 L1682.3,229.3 L1682.4,226.5 L1682.4,223.7 L1682.4,220.9 L1682.4,218.1 L1682.4,215.3 L1682.4,212.4 L1682.4,209.6 L1682.4,206.7 L1682.4,203.9 L1682.4,201.0 L1682.4,198.1 L1682.4,195.2 L1682.4,192.3 L1682.4,189.4 L1682.4,186.5 L1682.4,183.5 L1682.4,180.6 L1682.4,177.6 L1682.4,174.6 L1682.4,171.6 L1682.4,169.6 L1682.4,167.6 L1682.4,165.6 L1682.4,163.6 L1682.4,161.6 L1682.4,159.5 L1682.4,157.5 L1682.4,155.5 L1682.4,153.4 L1682.4,152.0" stroke="#6ba027" stroke-width="7"/>
<path d="M1483.1,1153.5 L1486.7,1154.7 L1490.4,1156.0 L1494.1,1157.2 L1497.8,1158.5 L1501.4,1159.7 L1505.1,1160.9 L1508.8,1162.1 L1512.5,1163.3 L1516.1,1164.4 L1519.8,1165.5 L1523.5,1166.5 L1527.2,1167.5 L1530.8,1168.4 L1534.5,1169.2 L1538.2,1169.9 L1541.8,1170.4 L1545.5,1170.8 L1549.2,1171.2 L1552.9,1171.4 L1556.5,1171.6 L1560.2,1171.9 L1563.9,1172.1 L1567.6,1172.2 L1571.2,1172.3 L1573.4,1172.4 L1575.6,1172.3 L1577.9,1172.2 L1580.1,1171.9 L1582.3,1171.5 L1584.4,1171.1 L1586.6,1170.6 L1588.7,1170.0 L1590.8,1169.3 L1592.8,1168.5 L1594.9,1167.7 L1596.9,1166.8 L1598.9,1165.8 L1600.9,1164.8 L1602.9,1163.8 L1604.8,1162.7 L1606.7,1161.5 L1608.6,1160.3 L1610.5,1159.1 L1612.4,1157.8 L1614.2,1156.4 L1616.0,1155.1 L1617.8,1153.7 L1619.6,1152.2 L1621.1,1150.9 L1622.6,1149.6 L1624.1,1148.3 L1625.6,1146.9 L1627.1,1145.6 L1628.6,1144.2 L1630.0,1142.8 L1631.4,1141.3 L1632.9,1139.9 L1634.3,1138.4 L1635.6,1136.9 L1637.0,1135.4 L1638.4,1133.9 L1639.7,1132.3 L1641.1,1130.8 L1642.4,1129.2 L1643.7,1127.6 L1645.0,1126.0 L1646.3,1124.4 L1647.5,1122.8 L1648.8,1121.1 L1650.0,1119.5 L1651.2,1117.8 L1652.4,1116.1 L1653.6,1114.4 L1654.8,1112.7 L1656.0,1111.0 L1657.2,1109.3 L1658.3,1107.5 L1659.5,1105.8 L1660.6,1104.0 L1661.7,1102.2 L1662.8,1100.4 L1663.9,1098.6 L1665.0,1096.8 L1666.0,1095.0 L1667.1,1093.1 L1668.1,1091.3 L1669.2,1089.4 L1670.2,1087.6 L1671.2,1085.7 L1672.2,1083.8 L1673.2,1081.9 L1674.2,1080.0 L1675.1,1078.1 L1676.1,1076.2 L1677.0,1074.2 L1677.9,1072.3 L1678.9,1070.3 L1679.8,1068.4 L1680.7,1066.4 L1681.6,1064.4 L1682.5,1062.4 L1683.3,1060.4 L1684.2,1058.4 L1685.0,1056.4 L1685.9,1054.3 L1686.7,1052.3 L1687.5,1050.2 L1688.4,1048.2 L1689.2,1046.1 L1689.9,1044.0 L1690.7,1041.9 L1691.5,1039.8 L1692.3,1037.7 L1693.0,1035.6 L1693.8,1033.5 L1694.5,1031.4 L1695.3,1029.2 L1696.0,1027.1 L1696.7,1024.9 L1697.4,1022.8 L1698.1,1020.6 L1698.8,1018.4 L1699.5,1016.2 L1700.1,1014.0 L1700.8,1011.8 L1701.4,1009.6 L1702.1,1007.3 L1702.7,1005.1 L1703.3,1003.2 L1703.8,1001.2 L1704.3,999.3 L1704.9,997.4 L1705.4,995.4 L1705.9,993.4 L1706.4,991.5 L1706.9,989.5 L1707.4,987.5 L1707.9,985.5 L1708.4,983.5 L1708.9,981.5 L1709.3,979.5 L1709.8,977.5 L1710.3,975.5 L1710.7,973.5 L1711.2,971.5 L1711.6,969.4 L1712.1,967.4 L1712.5,965.3 L1713.0,963.3 L1713.4,961.2 L1713.8,959.1 L1714.2,957.0 L1714.7,955.0 L1715.1,952.9 L1715.5,950.8 L1715.9,948.7 L1716.3,946.5 L1716.7,944.4 L1717.0,942.3 L1717.4,940.2 L1717.8,938.0 L1718.2,935.9 L1718.6,933.7 L1718.9,931.5 L1719.3,929.4 L1719.6,927.2 L1720.0,925.0 L1720.3,922.8 L1720.7,920.6 L1721.0,918.4 L1721.4,916.2 L1721.7,914.0 L1722.0,911.8 L1722.4,909.5 L1722.7,907.3 L1723.0,905.0 L1723.3,902.8 L1723.6,900.5 L1723.9,898.2 L1724.2,895.9 L1724.5,893.7 L1724.8,891.4 L1725.1,889.1 L1725.4,886.7 L1725.7,884.4 L1726.0,882.1 L1726.2,879.8 L1726.5,877.4 L1726.8,875.1 L1727.0,872.7 L1727.3,870.3 L1727.6,868.0 L1727.8,865.6 L1728.0,863.6 L1728.2,861.6 L1728.4,859.6 L1728.6,857.6 L1728.9,855.6 L1729.1,853.6 L1729.2,851.5 L1729.4,849.5 L1729.6,847.5 L1729.8,845.4 L1730.0,843.4 L1730.2,841.3 L1730.4,839.2 L1730.6,837.2 L1730.8,835.1 L1730.9,833.0 L1731.1,830.9 L1731.3,828.8 L1731.5,826.7 L1731.6,824.6 L1731.8,822.5 L1732.0,820.4 L1732.1,818.3 L1732.3,816.2 L1732.5,814.0 L1732.6,811.9 L1732.8,809.7 L1732.9,807.6 L1733.1,805.4 L1733.2,803.2 L1733.4,801.1 L1733.5,798.9 L1733.7,796.7 L1733.8,794.5 L1734.0,792.3 L1734.1,790.1 L1734.3,787.9 L1734.4,785.7 L1734.5,783.4 L1734.7,781.2 L1734.8,779.0 L1734.9,776.7 L1735.1,774.5 L1735.2,772.2 L1735.3,769.9 L1735.5,767.6 L1735.6,765.4 L1735.7,763.1 L1735.8,760.8 L1735.9,758.5 L1736.1,756.2 L1736.2,753.8 L1736.3,751.5 L1736.4,749.2 L1736.5,746.8 L1736.6,744.5 L1736.7,742.1 L1736.8,739.7 L1737.0,737.4 L1737.1,735.0 L1737.2,732.6 L1737.3,730.2 L1737.4,727.8 L1737.5,725.4 L1737.6,723.0 L1737.7,720.5 L1737.8,718.1 L1737.9,715.7 L1738.0,713.2 L1738.0,710.7 L1738.1,708.3 L1738.2,705.8 L1738.3,703.3 L1738.4,700.8 L1738.5,698.8 L1738.5,696.8 L1738.6,694.8 L1738.7,692.8 L1738.7,690.8 L1738.8,688.7 L1738.9,686.7 L1738.9,684.7 L1739.0,682.6 L1739.1,680.6 L1739.1,678.5 L1739.2,676.4 L1739.3,674.4 L1739.3,672.3 L1739.4,670.2 L1739.4,668.1 L1739.5,666.0 L1739.6,663.9 L1739.6,661.8 L1739.7,659.7 L1739.7,657.6 L1739.8,655.5 L1739.8,653.3 L1739.9,651.2 L1739.9,649.1 L1740.0,646.9 L1740.0,644.8 L1740.1,642.6 L1740.1,640.4 L1740.2,638.3 L1740.2,636.1 L1740.3,633.9 L1740.3,631.7 L1740.4,629.5 L1740.4,627.3 L1740.5,625.1 L1740.5,622.9 L1740.6,620.7 L1740.6,618.4 L1740.7,616.2 L1740.7,613.9 L1740.8,611.7 L1740.8,609.4 L1740.8,607.2 L1740.9,604.9 L1740.9,602.6 L1741.0,600.3 L1741.0,598.0 L1741.0,595.7 L1741.1,593.4 L1741.1,591.1 L1741.2,588.8 L1741.2,586.5 L1741.2,584.1 L1741.3,581.8 L1741.3,579.4 L1741.4,577.1 L1741.4,574.7 L1741.4,572.3 L1741.5,570.0 L1741.5,567.6 L1741.5,565.2 L1741.6,562.8 L1741.6,560.3 L1741.6,557.9 L1741.7,555.5 L1741.7,553.1 L1741.7,550.6 L1741.8,548.2 L1741.8,545.7 L1741.8,543.2 L1741.8,540.8 L1741.9,538.3 L1741.9,535.8 L1741.9,533.3 L1742.0,530.8 L1742.0,528.3 L1742.0,525.7 L1742.0,523.2 L1742.1,520.6 L1742.1,518.1 L1742.1,515.5 L1742.2,513.0 L1742.2,510.4 L1742.2,507.8 L1742.2,505.2 L1742.3,502.6 L1742.3,500.0 L1742.3,497.4 L1742.3,494.7 L1742.3,492.1 L1742.4,489.4 L1742.4,486.8 L1742.4,484.8 L1742.4,482.7 L1742.4,480.7 L1742.5,478.7 L1742.5,476.7 L1742.5,474.7 L1742.5,472.6 L1742.5,470.6 L1742.5,468.5 L1742.5,466.5 L1742.6,464.4 L1742.6,462.4 L1742.6,460.3 L1742.6,458.2 L1742.6,456.1 L1742.6,454.0 L1742.6,452.0 L1742.7,449.9 L1742.7,447.7 L1742.7,445.6 L1742.7,443.5 L1742.7,441.4 L1742.7,439.3 L1742.7,437.1 L1742.8,435.0 L1742.8,432.8 L1742.8,430.7 L1742.8,428.5 L1742.8,426.4 L1742.8,424.2 L1742.8,422.0 L1742.8,419.8 L1742.9,417.6 L1742.9,415.4 L1742.9,413.2 L1742.9,411.0 L1742.9,408.8 L1742.9,406.6 L1742.9,404.4 L1742.9,402.1 L1742.9,399.9 L1743.0,397.6 L1743.0,395.4 L1743.0,393.1 L1743.0,390.8 L1743.0,388.6 L1743.0,386.3 L1743.0,384.0 L1743.0,381.7 L1743.0,379.4 L1743.0,377.1 L1743.0,374.7 L1743.1,372.4 L1743.1,370.1 L1743.1,367.7 L1743.1,365.4 L1743.1,363.0 L1743.1,360.7 L1743.1,358.3 L1743.1,355.9 L1743.1,353.5 L1743.1,351.1 L1743.1,348.7 L1743.2,346.3 L1743.2,343.9 L1743.2,341.5 L1743.2,339.0 L1743.2,336.6 L1743.2,334.1 L1743.2,331.7 L1743.2,329.2 L1743.2,326.8 L1743.2,324.3 L1743.2,321.8 L1743.2,319.3 L1743.2,316.8 L1743.2,314.3 L1743.3,311.7 L1743.3,309.2 L1743.3,306.7 L1743.3,304.1 L1743.3,301.5 L1743.3,299.0 L1743.3,296.4 L1743.3,293.8 L1743.3,291.2 L1743.3,288.6 L1743.3,286.0 L1743.3,283.4 L1743.3,280.8 L1743.3,278.1 L1743.3,275.5 L1743.3,272.8 L1743.3,270.1 L1743.4,267.5 L1743.4,264.8 L1743.4,262.1 L1743.4,259.4 L1743.4,256.7 L1743.4,253.9 L1743.4,251.2 L1743.4,248.4 L1743.4,245.7 L1743.4,242.9 L1743.4,240.1 L1743.4,237.4 L1743.4,234.6 L1743.4,231.7 L1743.4,228.9 L1743.4,226.1 L1743.4,223.3 L1743.4,220.4 L1743.4,217.5 L1743.4,214.7 L1743.4,211.8 L1743.4,208.9 L1743.4,206.0 L1743.5,203.1 L1743.5,200.1 L1743.5,197.2 L1743.5,194.2 L1743.5,191.3 L1743.5,188.3 L1743.5,185.3 L1743.5,182.3 L1743.5,180.3 L1743.5,178.3 L1743.5,176.3 L1743.5,174.3 L1743.5,172.2 L1743.5,170.2 L1743.5,168.2 L1743.5,166.1 L1743.5,164.1 L1743.5,162.0 L1743.5,159.9 L1743.5,157.9 L1743.5,155.8 L1743.5,153.7 L1743.5,152.0" stroke="#d4121e" stroke-width="7"/>
<path d="M296.0,538.0 L300.0,540.9 L304.0,543.8 L308.0,546.7 L312.0,549.6 L316.0,552.5 L320.0,555.3 L324.0,558.2 L328.0,561.1 L332.0,563.9 L336.0,566.8 L340.0,569.6 L344.0,572.4 L348.0,575.2 L352.0,578.1 L356.0,580.9 L360.0,583.7 L364.0,586.5 L368.0,589.3 L372.0,592.1 L376.0,594.8 L380.0,597.6 L384.0,600.4 L388.0,603.1 L392.0,605.9 L396.0,608.6 L400.0,611.4 L404.0,614.1 L408.0,616.8 L412.0,619.5 L416.0,622.3 L420.0,625.0 L424.0,627.7 L428.0,630.4 L432.0,633.1 L436.0,635.7 L440.0,638.4 L444.0,641.1 L448.0,643.7 L452.0,646.4 L456.0,649.0 L460.0,651.7 L464.0,654.3 L468.0,657.0 L472.0,659.6 L476.0,662.2 L480.0,664.8 L484.0,667.4 L488.0,670.0 L492.0,672.6 L496.0,675.2 L500.0,677.8 L504.0,680.4 L508.0,682.9 L512.0,685.5 L516.0,688.0 L520.0,690.6 L524.0,693.1 L528.0,695.7 L532.0,698.2 L536.0,700.7 L540.0,703.3 L544.0,705.8 L548.0,708.3 L552.0,710.8 L556.0,713.3 L560.0,715.8 L564.0,718.2 L568.0,720.7 L572.0,723.2 L576.0,725.7 L580.0,728.1 L584.0,730.6 L588.0,733.0 L592.0,735.5 L596.0,737.9 L600.0,740.3 L604.0,742.8 L608.0,745.2 L612.0,747.6 L616.0,750.0 L620.0,752.4 L624.0,754.8 L628.0,757.2 L632.0,759.6 L636.0,761.9 L640.0,764.3 L644.0,766.7 L648.0,769.0 L652.0,771.4 L656.0,773.7 L660.0,776.1 L664.0,778.4 L668.0,780.8 L672.0,783.1 L676.0,785.4 L680.0,787.7 L684.0,790.0 L688.0,792.3 L692.0,794.6 L696.0,796.9 L700.0,799.2 L704.0,801.5 L708.0,803.8 L712.0,806.0 L716.0,808.3 L720.0,810.6 L724.0,812.8 L728.0,815.1 L732.0,817.3 L736.0,819.5 L740.0,821.8 L744.0,824.0 L748.0,826.2 L752.0,828.4 L756.0,830.6 L760.0,832.8 L764.0,835.0 L768.0,837.2 L772.0,839.4 L776.0,841.6 L780.0,843.8 L784.0,845.9 L788.0,848.1 L792.0,850.3 L796.0,852.4 L800.0,854.6 L804.0,856.7 L808.0,858.9 L812.0,861.0 L816.0,863.1 L820.0,865.2 L824.0,867.4 L828.0,869.5 L832.0,871.6 L836.0,873.7 L840.0,875.8 L844.0,877.9 L848.0,880.0 L852.0,882.0 L856.0,884.1 L860.0,886.2 L864.0,888.3 L868.0,890.3 L872.0,892.4 L876.0,894.4 L880.0,896.5 L884.0,898.5 L888.0,900.6 L892.0,902.6 L896.0,904.6 L900.0,906.6 L904.0,908.6 L908.0,910.7 L912.0,912.7 L916.0,914.7 L920.0,916.7 L924.0,918.7 L928.0,920.6 L932.0,922.6 L936.0,924.6 L940.0,926.6 L944.0,928.5 L948.0,930.5 L952.0,932.5 L956.0,934.4 L960.0,936.4 L964.0,938.3 L968.0,940.2 L972.0,942.2 L976.0,944.1 L980.0,946.0 L984.0,947.9 L988.0,949.8 L992.0,951.8 L996.0,953.7 L1000.0,955.6 L1004.0,957.5 L1008.0,959.3 L1012.0,961.2 L1016.0,963.1 L1020.0,965.0 L1024.0,966.9 L1028.0,968.7 L1032.0,970.6 L1036.0,972.4 L1040.0,974.3 L1044.0,976.1 L1048.0,978.0 L1052.0,979.8 L1056.0,981.7 L1060.0,983.5 L1064.0,985.3 L1068.0,987.1 L1072.0,988.9 L1076.0,990.8 L1080.0,992.6 L1084.0,994.4 L1088.0,996.2 L1092.0,998.0 L1096.0,999.7 L1100.0,1001.5 L1104.0,1003.3 L1108.0,1005.1 L1112.0,1006.9 L1116.0,1008.6 L1120.0,1010.4 L1124.0,1012.1 L1128.0,1013.9 L1132.0,1015.6 L1136.0,1017.4 L1140.0,1019.1 L1144.0,1020.9 L1148.0,1022.6 L1152.0,1024.3 L1156.0,1026.1 L1160.0,1027.8 L1164.0,1029.5 L1168.0,1031.2 L1172.0,1032.9 L1176.0,1034.6 L1180.0,1036.3 L1184.0,1038.0 L1188.0,1039.7 L1192.0,1041.4 L1196.0,1043.1 L1200.0,1044.7 L1204.0,1046.4 L1208.0,1048.1 L1212.0,1049.7 L1216.0,1051.4 L1220.0,1053.1 L1224.0,1054.7 L1228.0,1056.4 L1232.0,1058.0 L1236.0,1059.6 L1240.0,1061.3 L1244.0,1062.9 L1248.0,1064.5 L1252.0,1066.2 L1256.0,1067.8 L1260.0,1069.4 L1264.0,1071.0 L1268.0,1072.6 L1272.0,1074.2 L1276.0,1075.8 L1280.0,1077.4 L1284.0,1079.0 L1288.0,1080.6 L1292.0,1082.2 L1296.0,1083.8 L1300.0,1085.3 L1304.0,1086.9 L1308.0,1088.5 L1312.0,1090.1 L1316.0,1091.6 L1320.0,1093.2 L1324.0,1094.7 L1328.0,1096.3 L1332.0,1097.8 L1336.0,1099.4 L1340.0,1100.9 L1344.0,1102.4 L1348.0,1104.0 L1352.0,1105.5 L1356.0,1107.0 L1360.0,1108.5 L1364.0,1110.1 L1368.0,1111.6 L1372.0,1113.1 L1376.0,1114.6 L1380.0,1116.1 L1384.0,1117.6 L1388.0,1119.1 L1392.0,1120.6 L1396.0,1122.1 L1400.0,1123.6 L1404.0,1125.0 L1408.0,1126.5 L1412.0,1128.0 L1416.0,1129.5 L1420.0,1130.9" stroke="#0b64a8" stroke-width="11.5" clip-path="url(#plotclip)"/>
<path d="M1416.0,1129.5 L1420.0,1130.9 L1424.0,1132.4 L1428.0,1133.8 L1432.0,1135.3 L1436.0,1136.8 L1440.0,1138.2 L1444.0,1139.6 L1448.0,1141.1" stroke="#0b64a8" stroke-width="11"/>
<path d="M1446.0,1140.4 L1450.0,1141.8 L1454.0,1143.2 L1458.0,1144.7 L1462.0,1146.1 L1466.0,1147.5 L1470.0,1149.0 L1474.0,1150.4 L1478.0,1151.8" stroke="#0b64a8" stroke-width="10.3"/>
<path d="M1476.0,1151.1 L1480.0,1152.5 L1484.0,1153.9 L1488.0,1155.3 L1492.0,1156.7 L1496.0,1158.1 L1500.0,1159.5 L1504.0,1160.9 L1508.0,1162.3" stroke="#0b64a8" stroke-width="9.5"/>
<path d="M1506.0,1161.6 L1510.0,1163.0 L1514.0,1164.4 L1518.0,1165.8 L1522.0,1167.2 L1526.0,1168.6 L1530.0,1169.9 L1534.0,1171.3 L1538.0,1172.7" stroke="#0b64a8" stroke-width="8.7"/>
<path d="M1500.0,1159.5 L1502.2,1160.2 L1504.4,1161.0 L1506.6,1161.8 L1508.8,1162.5 L1511.0,1163.3 L1513.2,1164.0 L1515.4,1164.8 L1517.6,1165.5 L1519.9,1166.3 L1522.1,1167.0 L1524.3,1167.8 L1526.5,1168.5 L1528.7,1169.2 L1530.9,1170.0 L1533.1,1170.7 L1535.3,1171.4 L1537.5,1172.1 L1539.7,1172.9 L1541.9,1173.6 L1544.1,1174.3 L1546.3,1175.0 L1548.5,1175.7 L1550.7,1176.3 L1552.9,1177.0 L1555.1,1177.7 L1557.3,1178.3 L1559.6,1179.0 L1561.8,1179.6 L1564.0,1180.2 L1566.2,1180.8 L1568.4,1181.4 L1570.6,1181.9 L1572.8,1182.5 L1575.0,1183.0 L1577.2,1183.5 L1579.4,1184.0 L1581.6,1184.4 L1583.8,1184.8 L1586.0,1185.2 L1588.2,1185.6 L1590.4,1186.0 L1592.6,1186.3 L1594.8,1186.6 L1597.1,1186.8 L1599.3,1187.0 L1601.5,1187.2 L1603.7,1187.4 L1605.9,1187.5 L1608.1,1187.6 L1610.2,1187.6 L1612.3,1187.5 L1614.4,1187.4 L1616.5,1187.1 L1618.5,1186.8 L1620.5,1186.5 L1622.5,1186.1 L1624.5,1185.6 L1626.5,1185.0 L1628.4,1184.4 L1630.4,1183.8 L1632.3,1183.1 L1634.2,1182.3 L1636.1,1181.5 L1637.9,1180.7 L1639.8,1179.8 L1641.6,1178.9 L1643.4,1177.9 L1645.2,1177.0 L1647.0,1175.9 L1648.7,1174.9 L1650.4,1173.8 L1652.2,1172.7 L1653.9,1171.5 L1655.6,1170.3 L1657.2,1169.1 L1658.9,1167.9 L1660.5,1166.7 L1662.1,1165.4 L1663.7,1164.1 L1665.3,1162.8 L1666.9,1161.4 L1668.5,1160.1 L1670.0,1158.7 L1671.5,1157.3 L1673.0,1155.9 L1674.5,1154.4 L1676.0,1153.0 L1677.5,1151.5 L1678.9,1150.0 L1680.4,1148.5 L1681.8,1147.0 L1683.2,1145.5 L1684.6,1143.9 L1685.9,1142.4 L1687.3,1140.8 L1688.7,1139.2 L1690.0,1137.6 L1691.3,1136.0 L1692.6,1134.4 L1693.9,1132.7 L1695.2,1131.1 L1696.5,1129.4 L1697.7,1127.7 L1698.9,1126.0 L1700.2,1124.3 L1701.4,1122.6 L1702.6,1120.9 L1703.8,1119.1 L1704.9,1117.4 L1706.1,1115.6 L1707.2,1113.8 L1708.4,1112.1 L1709.5,1110.3 L1710.6,1108.5 L1711.7,1106.6 L1712.8,1104.8 L1713.9,1103.0 L1714.9,1101.1 L1716.0,1099.3 L1717.0,1097.4 L1718.1,1095.5 L1719.1,1093.7 L1720.1,1091.8 L1721.1,1089.8 L1722.1,1087.9 L1723.0,1086.0 L1724.0,1084.1 L1724.9,1082.1 L1725.9,1080.2 L1726.8,1078.2 L1727.7,1076.2 L1728.6,1074.2 L1729.5,1072.3 L1730.4,1070.2 L1731.3,1068.2 L1732.2,1066.2 L1733.0,1064.2 L1733.9,1062.1 L1734.7,1060.1 L1735.5,1058.0 L1736.3,1056.0 L1737.1,1053.9 L1737.9,1051.8 L1738.7,1049.7 L1739.5,1047.6 L1740.3,1045.5 L1741.0,1043.4 L1741.8,1041.3 L1742.5,1039.1 L1743.3,1037.0 L1744.0,1034.8 L1744.7,1032.6 L1745.4,1030.5 L1746.1,1028.3 L1746.8,1026.1 L1747.5,1023.9 L1748.1,1021.7 L1748.8,1019.5 L1749.5,1017.2 L1750.1,1015.0 L1750.7,1013.1 L1751.2,1011.1 L1751.7,1009.2 L1752.3,1007.3 L1752.8,1005.3 L1753.3,1003.4 L1753.8,1001.4 L1754.3,999.4 L1754.8,997.4 L1755.3,995.5 L1755.8,993.5 L1756.3,991.5 L1756.8,989.5 L1757.3,987.4 L1757.7,985.4 L1758.2,983.4 L1758.7,981.4 L1759.1,979.3 L1759.6,977.3 L1760.0,975.2 L1760.4,973.2 L1760.9,971.1 L1761.3,969.0 L1761.7,967.0 L1762.1,964.9 L1762.6,962.8 L1763.0,960.7 L1763.4,958.6 L1763.8,956.4 L1764.2,954.3 L1764.6,952.2 L1764.9,950.1 L1765.3,947.9 L1765.7,945.8 L1766.1,943.6 L1766.4,941.4 L1766.8,939.3 L1767.2,937.1 L1767.5,934.9 L1767.9,932.7 L1768.2,930.5 L1768.6,928.3 L1768.9,926.1 L1769.2,923.9 L1769.6,921.6 L1769.9,919.4 L1770.2,917.1 L1770.5,914.9 L1770.9,912.6 L1771.2,910.4 L1771.5,908.1 L1771.8,905.8 L1772.1,903.5 L1772.4,901.2 L1772.7,898.9 L1772.9,896.6 L1773.2,894.3 L1773.5,891.9 L1773.8,889.6 L1774.1,887.2 L1774.3,884.9 L1774.6,882.5 L1774.9,880.1 L1775.1,877.8 L1775.3,875.8 L1775.5,873.8 L1775.8,871.8 L1776.0,869.8 L1776.2,867.8 L1776.4,865.7 L1776.6,863.7 L1776.8,861.7 L1777.0,859.6 L1777.2,857.6 L1777.3,855.5 L1777.5,853.5 L1777.7,851.4 L1777.9,849.4 L1778.1,847.3 L1778.3,845.2 L1778.5,843.1 L1778.6,841.0 L1778.8,838.9 L1779.0,836.8 L1779.1,834.7 L1779.3,832.6 L1779.5,830.5 L1779.7,828.4 L1779.8,826.2 L1780.0,824.1 L1780.1,821.9 L1780.3,819.8 L1780.4,817.6 L1780.6,815.4 L1780.8,813.3 L1780.9,811.1 L1781.1,808.9 L1781.2,806.7 L1781.3,804.5 L1781.5,802.3 L1781.6,800.1 L1781.8,797.8 L1781.9,795.6 L1782.0,793.4 L1782.2,791.1 L1782.3,788.9 L1782.4,786.6 L1782.6,784.4 L1782.7,782.1 L1782.8,779.8 L1783.0,777.5 L1783.1,775.2 L1783.2,772.9 L1783.3,770.6 L1783.4,768.3 L1783.6,766.0 L1783.7,763.6 L1783.8,761.3 L1783.9,758.9 L1784.0,756.6 L1784.1,754.2 L1784.2,751.9 L1784.3,749.5 L1784.4,747.1 L1784.5,744.7 L1784.7,742.3 L1784.8,739.9 L1784.9,737.5 L1785.0,735.0 L1785.1,732.6 L1785.1,730.2 L1785.2,727.7 L1785.3,725.3 L1785.4,722.8 L1785.5,720.3 L1785.6,717.8 L1785.7,715.3 L1785.8,713.3 L1785.8,711.3 L1785.9,709.3 L1786.0,707.3 L1786.0,705.3 L1786.1,703.2 L1786.2,701.2 L1786.2,699.2 L1786.3,697.1 L1786.4,695.1 L1786.4,693.0 L1786.5,690.9 L1786.6,688.9 L1786.6,686.8 L1786.7,684.7 L1786.7,682.6 L1786.8,680.5 L1786.9,678.4 L1786.9,676.3 L1787.0,674.2 L1787.0,672.1 L1787.1,670.0 L1787.1,667.9 L1787.2,665.7 L1787.3,663.6 L1787.3,661.4 L1787.4,659.3 L1787.4,657.1 L1787.5,654.9 L1787.5,652.8 L1787.6,650.6 L1787.6,648.4 L1787.7,646.2 L1787.7,644.0 L1787.8,641.8 L1787.8,639.6 L1787.9,637.4 L1787.9,635.1 L1787.9,632.9 L1788.0,630.7 L1788.0,628.4 L1788.1,626.2 L1788.1,623.9 L1788.2,621.6 L1788.2,619.4 L1788.2,617.1 L1788.3,614.8 L1788.3,612.5 L1788.4,610.2 L1788.4,607.9 L1788.5,605.5 L1788.5,603.2 L1788.5,600.9 L1788.6,598.5 L1788.6,596.2 L1788.6,593.8 L1788.7,591.5 L1788.7,589.1 L1788.7,586.7 L1788.8,584.3 L1788.8,581.9 L1788.9,579.5 L1788.9,577.1 L1788.9,574.7 L1789.0,572.3 L1789.0,569.9 L1789.0,568.6 L1789.0,264.0" stroke="#0b64a8" stroke-width="7.5"/>
</g>
<g stroke="#383838" fill="none">
<line x1="300.5" y1="150.0" x2="300.5" y2="1356" stroke-width="4"/>
<line x1="266" y1="1315.3" x2="1792.8" y2="1315.3" stroke-width="4"/>
<line x1="299.5" y1="152.0" x2="1792.8" y2="152.0" stroke-width="4"/>
<line x1="1790.8" y1="150.0" x2="1790.8" y2="1354" stroke-width="4"/>
</g>
<g fill="#000" font-family="Liberation Sans, sans-serif">
<text x="366.70" y="58.00" font-size="59.59" font-weight="normal" textLength="159.11" lengthAdjust="spacingAndGlyphs" stroke="#000" stroke-width="0.8">Epoxy</text>
<text x="565.41" y="58.00" font-size="59.59" font-weight="normal" textLength="72.90" lengthAdjust="spacingAndGlyphs" stroke="#000" stroke-width="0.8">ST</text>
<text x="677.26" y="58.00" font-size="59.59" font-weight="normal" textLength="111.06" lengthAdjust="spacingAndGlyphs" stroke="#000" stroke-width="0.8">CAE</text>
<text x="870.64" y="58.00" font-size="59.60" font-weight="normal" textLength="172.52" lengthAdjust="spacingAndGlyphs" stroke="#000" stroke-width="0.8">(Shear</text>
<text x="1052.09" y="58.60" font-size="59.88" font-weight="normal" letter-spacing="1.13" stroke="#000" stroke-width="0.8">Rate</text>
<text x="1192.12" y="58.00" font-size="59.60" font-weight="normal" textLength="34.50" lengthAdjust="spacingAndGlyphs" stroke="#000" stroke-width="0.8">=</text>
<text x="1247.25" y="58.60" font-size="59.60" font-weight="normal" clip-path="url(#c1)" stroke="#000" stroke-width="0.8">1</text>
<text x="1275.33" y="58.00" font-size="59.60" font-weight="normal" textLength="23.34" lengthAdjust="spacingAndGlyphs" stroke="#000" stroke-width="0.8">.</text>
<text x="1302.06" y="58.00" font-size="59.60" font-weight="normal" textLength="27.57" lengthAdjust="spacingAndGlyphs" stroke="#000" stroke-width="0.8">0</text>
<text x="1342.35" y="58.40" font-size="59.60" font-weight="normal" clip-path="url(#c2)" stroke="#000" stroke-width="0.8">1</text>
<text x="1375.00" y="58.00" font-size="59.60" font-weight="normal" textLength="18.00" lengthAdjust="spacingAndGlyphs" stroke="#000" stroke-width="0.8">/</text>
<text x="1397.54" y="58.00" font-size="59.60" font-weight="normal" letter-spacing="2.39" stroke="#000" stroke-width="0.8">sec)</text>
<text x="135.49" y="175.00" font-size="60.32" font-weight="bold" textLength="57.12" lengthAdjust="spacingAndGlyphs" clip-path="url(#c3)">10</text>
<text x="204.65" y="152.62" font-size="39.41" font-weight="normal" textLength="18.77" lengthAdjust="spacingAndGlyphs" stroke="#000" stroke-width="1.1">5</text>
<text x="135.49" y="341.50" font-size="60.32" font-weight="bold" textLength="57.12" lengthAdjust="spacingAndGlyphs" clip-path="url(#c4)">10</text>
<text x="205.27" y="319.50" font-size="39.97" font-weight="normal" textLength="17.66" lengthAdjust="spacingAndGlyphs" stroke="#000" stroke-width="1.1">4</text>
<text x="135.49" y="506.30" font-size="60.32" font-weight="bold" textLength="57.12" lengthAdjust="spacingAndGlyphs" clip-path="url(#c5)">10</text>
<text x="204.71" y="483.92" font-size="38.84" font-weight="normal" textLength="18.77" lengthAdjust="spacingAndGlyphs" stroke="#000" stroke-width="1.1">3</text>
<text x="135.49" y="673.40" font-size="60.32" font-weight="bold" textLength="57.12" lengthAdjust="spacingAndGlyphs" clip-path="url(#c6)">10</text>
<text x="204.23" y="651.40" font-size="39.38" font-weight="normal" textLength="19.53" lengthAdjust="spacingAndGlyphs" stroke="#000" stroke-width="1.1">2</text>
<text x="135.49" y="838.80" font-size="60.32" font-weight="bold" textLength="57.12" lengthAdjust="spacingAndGlyphs" clip-path="url(#c7)">10</text>
<text x="205.87" y="816.80" font-size="38.52" font-weight="normal" textLength="19.86" lengthAdjust="spacingAndGlyphs" stroke="#000" stroke-width="1.1" clip-path="url(#c8)">1</text>
<text x="135.49" y="1004.70" font-size="60.32" font-weight="bold" textLength="57.12" lengthAdjust="spacingAndGlyphs" clip-path="url(#c9)">10</text>
<text x="204.69" y="982.32" font-size="38.84" font-weight="normal" textLength="18.61" lengthAdjust="spacingAndGlyphs" stroke="#000" stroke-width="1.1">0</text>
<text x="135.49" y="1170.90" font-size="60.32" font-weight="bold" textLength="57.12" lengthAdjust="spacingAndGlyphs" clip-path="url(#c10)">10</text>
<text x="204.63" y="1155.40" font-size="64.00" font-weight="normal" textLength="10.23" lengthAdjust="spacingAndGlyphs" stroke="#000" stroke-width="1.1">-</text>
<text x="217.96" y="1148.10" font-size="37.79" font-weight="normal" textLength="17.58" lengthAdjust="spacingAndGlyphs" stroke="#000" stroke-width="1.1" clip-path="url(#c11)">1</text>
<text x="135.49" y="1335.80" font-size="60.32" font-weight="bold" textLength="57.12" lengthAdjust="spacingAndGlyphs" clip-path="url(#c12)">10</text>
<text x="204.63" y="1320.30" font-size="64.00" font-weight="normal" textLength="10.23" lengthAdjust="spacingAndGlyphs" stroke="#000" stroke-width="1.1">-</text>
<text x="214.79" y="1313.80" font-size="40.82" font-weight="normal" textLength="18.92" lengthAdjust="spacingAndGlyphs" stroke="#000" stroke-width="1.1">2</text>
<text x="267.46" y="1417.00" font-size="62.50" font-weight="bold" textLength="57.67" lengthAdjust="spacingAndGlyphs" clip-path="url(#c13)">10</text>
<text x="428.38" y="1417.00" font-size="62.50" font-weight="bold" textLength="59.20" lengthAdjust="spacingAndGlyphs">30</text>
<text x="593.34" y="1417.00" font-size="62.50" font-weight="bold" textLength="59.86" lengthAdjust="spacingAndGlyphs">50</text>
<text x="761.80" y="1417.00" font-size="62.50" font-weight="bold" textLength="57.00" lengthAdjust="spacingAndGlyphs">70</text>
<text x="924.64" y="1417.00" font-size="62.50" font-weight="bold" textLength="59.55" lengthAdjust="spacingAndGlyphs">90</text>
<text x="1079.33" y="1417.00" font-size="62.50" font-weight="bold" textLength="89.68" lengthAdjust="spacingAndGlyphs" clip-path="url(#c14)">110</text>
<text x="1245.16" y="1417.00" font-size="62.50" font-weight="bold" textLength="88.82" lengthAdjust="spacingAndGlyphs" clip-path="url(#c15)">130</text>
<text x="1410.61" y="1417.00" font-size="62.50" font-weight="bold" textLength="92.59" lengthAdjust="spacingAndGlyphs" clip-path="url(#c16)">151</text>
<text x="1578.09" y="1417.00" font-size="62.50" font-weight="bold" textLength="90.47" lengthAdjust="spacingAndGlyphs" clip-path="url(#c17)">171</text>
<text x="1743.79" y="1417.00" font-size="62.50" font-weight="bold" textLength="90.47" lengthAdjust="spacingAndGlyphs" clip-path="url(#c18)">191</text>
<text x="728.14" y="1570.20" font-size="59.30" font-weight="normal" textLength="320.95" lengthAdjust="spacingAndGlyphs" stroke="#000" stroke-width="0.8">Temperature</text>
<text x="1088.44" y="1570.18" font-size="54.07" font-weight="bold" textLength="18.12" lengthAdjust="spacingAndGlyphs">[</text>
<text x="1105.24" y="1552.99" font-size="30.88" font-weight="bold" textLength="15.97" lengthAdjust="spacingAndGlyphs">°</text>
<text x="1119.62" y="1570.26" font-size="55.51" font-weight="bold" textLength="36.56" lengthAdjust="spacingAndGlyphs">C</text>
<text x="1158.37" y="1570.18" font-size="54.07" font-weight="bold" textLength="17.11" lengthAdjust="spacingAndGlyphs">]</text>
</g>
<text transform="translate(62,1083) rotate(-90)" x="-0.24" y="0" font-family="Liberation Sans, sans-serif" font-size="55.23" stroke="#000" stroke-width="1" letter-spacing="1.10">Viscosity [g/(cm.sec) ]</text>
<rect x="1879.5" y="827.5" width="392" height="484" rx="9" ry="9" fill="#fff" stroke="#e0e0e0" stroke-width="3.5"/>
<g fill="#000" font-family="Liberation Sans, sans-serif">
<text x="1918.12" y="903.28" font-size="39.22" font-weight="bold" textLength="31.79" lengthAdjust="spacingAndGlyphs">Q</text>
<text x="1989.15" y="903.95" font-size="45.06" font-weight="bold" textLength="15.73" lengthAdjust="spacingAndGlyphs">[</text>
<text x="2003.10" y="887.60" font-size="26.01" font-weight="bold" textLength="12.78" lengthAdjust="spacingAndGlyphs">°</text>
<text x="2014.62" y="906.03" font-size="48.02" font-weight="normal" textLength="31.02" lengthAdjust="spacingAndGlyphs" stroke="#000" stroke-width="1.2">C</text>
<text x="2046.80" y="905.55" font-size="46.30" font-weight="normal" textLength="10.80" lengthAdjust="spacingAndGlyphs" stroke="#000" stroke-width="0.6">/</text>
<text x="2058.10" y="906.00" font-size="46.23" font-weight="bold" textLength="78.23" lengthAdjust="spacingAndGlyphs">min</text>
<text x="2136.54" y="903.95" font-size="45.06" font-weight="bold" textLength="12.58" lengthAdjust="spacingAndGlyphs">]</text>
<line x1="1911" y1="961" x2="2009" y2="961" stroke="#f0a24a" stroke-width="6"/>
<text x="2047.57" y="983.50" font-size="50.15" font-weight="bold" letter-spacing="0.31" clip-path="url(#c19)">10</text>
<line x1="1911" y1="1032" x2="2009" y2="1032" stroke="#3aa0c4" stroke-width="6"/>
<text x="2049.32" y="1054.50" font-size="50.15" font-weight="bold" textLength="53.76" lengthAdjust="spacingAndGlyphs">28</text>
<line x1="1911" y1="1103.5" x2="2009" y2="1103.5" stroke="#6e9e28" stroke-width="6"/>
<text x="2050.28" y="1126.00" font-size="50.15" font-weight="bold" textLength="52.63" lengthAdjust="spacingAndGlyphs">45</text>
<line x1="1911" y1="1175" x2="2009" y2="1175" stroke="#b0142a" stroke-width="6"/>
<text x="2049.21" y="1197.50" font-size="50.15" font-weight="bold" textLength="54.35" lengthAdjust="spacingAndGlyphs">62</text>
<line x1="1911" y1="1246" x2="2009" y2="1246" stroke="#035f9f" stroke-width="6"/>
<text x="2049.46" y="1268.50" font-size="50.15" font-weight="bold" textLength="54.14" lengthAdjust="spacingAndGlyphs">80</text>
</g></svg>
</body></html>
